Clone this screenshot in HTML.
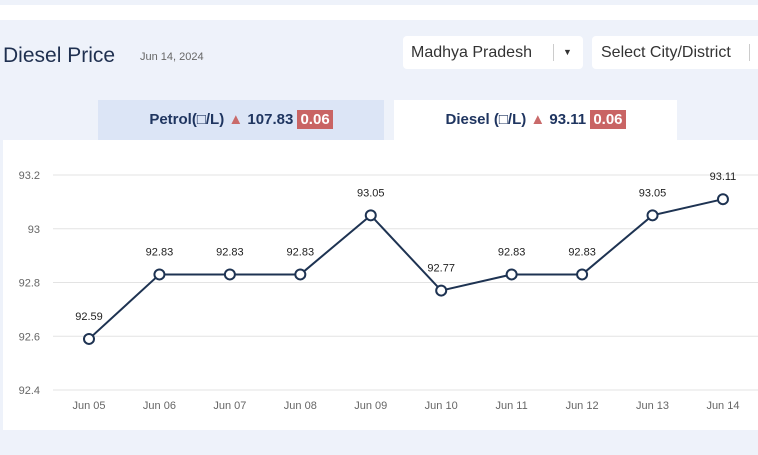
<!DOCTYPE html>
<html><head><meta charset="utf-8"><style>
body{margin:0;width:758px;height:455px;overflow:hidden;background:#eef2fa;font-family:"Liberation Sans",sans-serif;position:relative}
.abs{position:absolute}
</style></head><body>
<div class="abs" style="left:0;top:5px;width:758px;height:15px;background:#fff"></div>
<div class="abs" style="left:3px;top:44px;font-size:21px;color:#1f3050">Diesel Price</div>
<div class="abs" style="left:140px;top:51px;font-size:11px;color:#666">Jun 14, 2024</div>
<div class="abs" style="left:403px;top:36px;width:180px;height:33px;background:#fff;border-radius:4px;font-size:16px;color:#333;line-height:33px;padding-left:8px;box-sizing:border-box">Madhya Pradesh<span style="position:absolute;left:150px;top:8px;height:17px;border-left:1px solid #ccc"></span><span style="position:absolute;left:160px;font-size:9px">▼</span></div>
<div class="abs" style="left:592px;top:36px;width:180px;height:33px;background:#fff;border-radius:4px;font-size:16px;color:#333;line-height:33px;padding-left:9px;box-sizing:border-box">Select City/District<span style="position:absolute;left:157px;top:8px;height:17px;border-left:1px solid #ccc"></span></div>
<div class="abs" style="left:98px;top:100px;width:286px;height:40px;background:#dce5f6;font-size:15px;font-weight:bold;color:#1f3560;line-height:40px;text-align:center">Petrol(□/L) <span style="color:#c96a6a">▲</span> 107.83 <span style="background:#c96464;color:#fff;padding:1px 3px">0.06</span></div>
<div class="abs" style="left:394px;top:100px;width:283px;height:40px;background:#fff;font-size:15px;font-weight:bold;color:#1f3560;line-height:40px;text-align:center">Diesel (□/L) <span style="color:#c96a6a">▲</span> 93.11 <span style="background:#c96464;color:#fff;padding:1px 3px">0.06</span></div>
<div class="abs" style="left:3px;top:140px;width:755px;height:290px;background:#fff"></div>
<svg class="abs" style="left:0;top:0" width="758" height="455" id="chart"></svg>
<script>
const categories=["Jun 05","Jun 06","Jun 07","Jun 08","Jun 09","Jun 10","Jun 11","Jun 12","Jun 13","Jun 14"];
const values=[92.59,92.83,92.83,92.83,93.05,92.77,92.83,92.83,93.05,93.11];
const yTicks=[92.4,92.6,92.8,93,93.2];
const ns="http://www.w3.org/2000/svg";
const svg=document.getElementById('chart');
const y=v=>390-(v-92.4)/0.8*215;
const x=i=>89+i*70.44;
function mk(t,a){const e=document.createElementNS(ns,t);for(const k in a)e.setAttribute(k,a[k]);svg.appendChild(e);return e;}
yTicks.forEach(t=>{
 const l=mk('line',{x1:53,x2:758,y1:y(t),y2:y(t),stroke:'#e3e3e3'});
 
 
 const tx=mk('text',{x:40,y:y(t)+4,'text-anchor':'end','font-size':11,fill:'#666','font-family':'Liberation Sans'});
 tx.textContent=String(t);
 
 
});
categories.forEach((c,i)=>{
 const tx=mk('text',{x:x(i),y:409,'text-anchor':'middle','font-size':11,fill:'#666','font-family':'Liberation Sans'});
 tx.textContent=c;
 
 
});
const p=mk('polyline',{points:values.map((v,i)=>x(i)+','+y(v)).join(' '),fill:'none',stroke:'#1e3352','stroke-width':2});


values.forEach((v,i)=>{
 const c=mk('circle',{cx:x(i),cy:y(v),r:5,fill:'#fff',stroke:'#1e3352','stroke-width':2});
 
 
 const tx=mk('text',{x:x(i),y:y(v)-19,'text-anchor':'middle','font-size':11,fill:'#222','font-family':'Liberation Sans'});
 tx.textContent=v.toFixed(2);
 
 
});
</script>
</body></html>
